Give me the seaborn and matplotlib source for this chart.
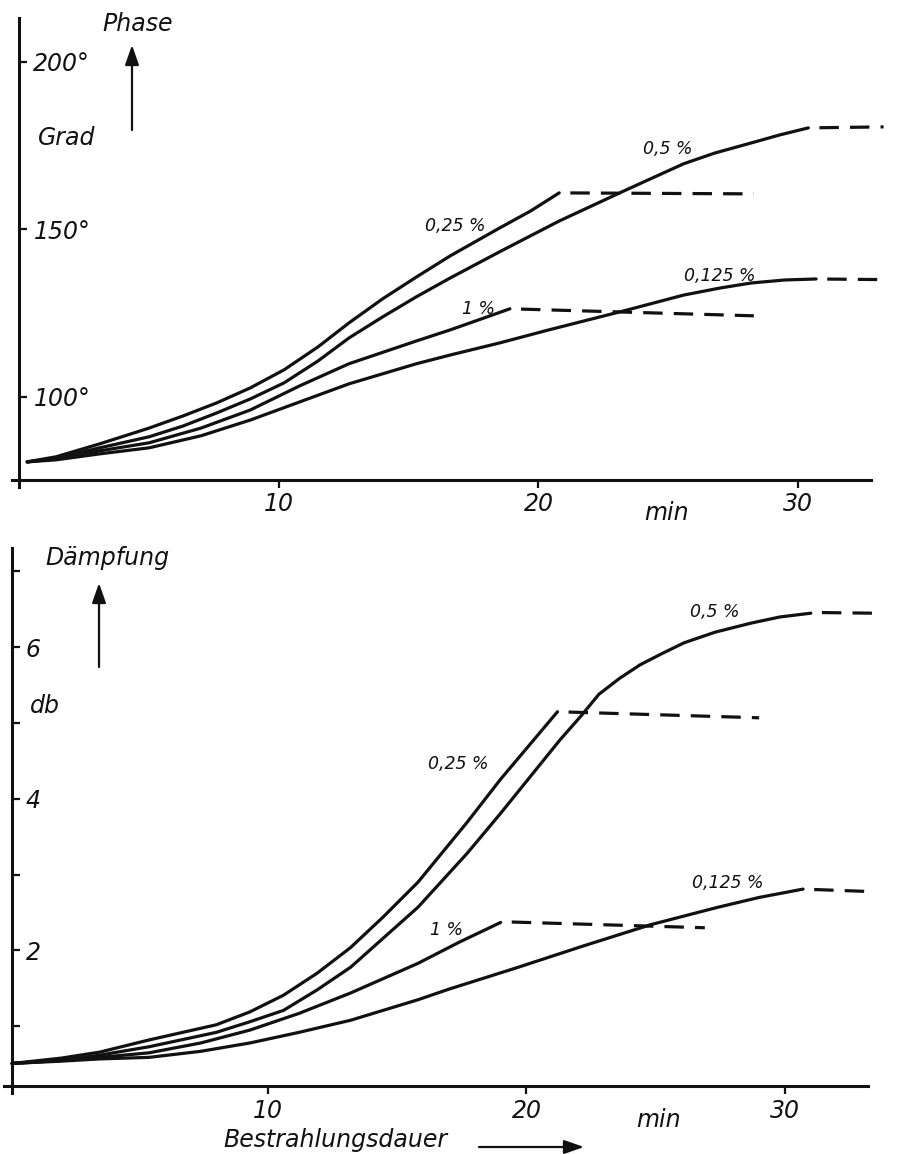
import matplotlib
matplotlib.use("Agg")
import matplotlib.pyplot as plt
from matplotlib.patches import FancyArrowPatch
import seaborn as sns

# ---------------- data ----------------
# Upper panel: Phase (Grad) vs. Bestrahlungsdauer (min)
ph_05_x = [0.3, 1.4, 3.1, 5.0, 6.3, 7.6, 8.9, 10.2, 11.5, 12.7, 14.0, 15.3, 16.6, 18.5, 20.8, 23.3, 25.6, 26.8, 28.2, 29.3, 30.4]
ph_05_y = [80.6, 81.8, 84.8, 88.1, 91.3, 95.2, 99.4, 104.2, 110.7, 117.6, 123.9, 129.9, 135.5, 143.3, 152.5, 161.5, 169.6, 172.8, 175.8, 178.2, 180.3]
ph_025_x = [0.3, 1.4, 3.1, 5.0, 6.3, 7.6, 8.9, 10.2, 11.5, 12.7, 14.0, 15.3, 16.6, 18.5, 19.7, 20.8]
ph_025_y = [80.6, 82.1, 86.0, 90.7, 94.3, 98.2, 102.7, 108.1, 114.9, 122.1, 129.3, 135.8, 142.1, 150.4, 155.5, 160.9]
ph_1_x = [0.3, 1.4, 3.1, 5.0, 7.0, 8.9, 10.8, 12.7, 15.3, 16.6, 17.7, 18.9]
ph_1_y = [80.6, 81.5, 83.9, 86.3, 90.7, 96.1, 103.3, 109.9, 116.7, 120.0, 123.0, 126.3]
ph_0125_x = [0.3, 1.4, 3.1, 5.0, 7.0, 8.9, 10.8, 12.7, 15.3, 16.6, 18.5, 20.4, 23.3, 25.6, 27.0, 28.2, 29.5, 30.7]
ph_0125_y = [80.6, 81.2, 83.0, 84.8, 88.4, 93.1, 98.5, 103.9, 109.9, 112.5, 116.1, 120.0, 125.7, 130.4, 132.5, 134.0, 134.9, 135.2]
# dashed continuations
ph_05_dash_x, ph_05_dash_y = [30.4, 33.3], [180.3, 180.6]
ph_025_dash_x, ph_025_dash_y = [20.8, 28.3], [160.9, 160.6]
ph_1_dash_x, ph_1_dash_y = [18.9, 28.3], [126.3, 124.2]
ph_0125_dash_x, ph_0125_dash_y = [30.7, 33.4], [135.2, 135.0]

# Lower panel: Dämpfung (db) vs. Bestrahlungsdauer (min)
db_05_x = [0.1, 2.0, 3.5, 5.4, 8.0, 9.3, 10.6, 11.9, 13.2, 14.45, 15.8, 17.7, 19.0, 21.3, 22.1, 22.8, 23.6, 24.4,
           25.2, 26.1, 27.3, 28.7, 29.8, 31.0]
db_05_y = [0.51, 0.55, 0.62, 0.73, 0.92, 1.06, 1.21, 1.48, 1.78, 2.16, 2.57, 3.28, 3.81, 4.78, 5.09, 5.38, 5.59, 5.77,
           5.91, 6.06, 6.20, 6.32, 6.40, 6.45]
db_025_x = [0.1, 2.0, 3.5, 5.4, 8.0, 9.3, 10.6, 11.9, 13.2, 14.45, 15.8, 17.7, 19.0, 21.2]
db_025_y = [0.51, 0.58, 0.66, 0.82, 1.02, 1.19, 1.41, 1.70, 2.04, 2.44, 2.90, 3.69, 4.26, 5.15]
db_1_x = [0.1, 2.0, 3.5, 5.4, 7.4, 9.3, 11.2, 13.2, 15.8, 17.4, 19.0]
db_1_y = [0.51, 0.55, 0.59, 0.65, 0.78, 0.95, 1.17, 1.44, 1.83, 2.11, 2.37]
db_0125_x = [0.1, 2.0, 3.5, 5.4, 7.4, 9.3, 11.2, 13.2, 15.8, 17.0, 19.6, 22.2, 24.8, 27.4, 29.0, 30.7]
db_0125_y = [0.51, 0.54, 0.57, 0.59, 0.67, 0.78, 0.92, 1.08, 1.35, 1.49, 1.77, 2.06, 2.34, 2.57, 2.70, 2.81]
db_05_dash_x, db_05_dash_y = [31.0, 33.4], [6.46, 6.45]
db_025_dash_x, db_025_dash_y = [21.2, 29.0], [5.15, 5.07]
db_1_dash_x, db_1_dash_y = [19.0, 26.9], [2.38, 2.30]
db_0125_dash_x, db_0125_dash_y = [30.7, 33.1], [2.81, 2.78]

x_ticks = [10, 20, 30]
x_ticklabels = ["10", "20", "30"]
ph_ticks = [100, 150, 200]
ph_ticklabels = ["100°", "150°", "200°"]
db_ticks = [1, 2, 3, 4, 5, 6, 7]
db_ticklabels = ["", "2", "", "4", "", "6", ""]

conc_labels = ["0,5 %", "0,25 %", "1 %", "0,125 %"]

# ---------------- styling ----------------
sns.set_theme(style="ticks")
plt.rcParams["font.family"] = ["DejaVu Sans"]
plt.rcParams["font.style"] = "italic"
plt.rcParams["lines.scale_dashes"] = False
plt.rcParams["lines.solid_joinstyle"] = "round"
plt.rcParams["lines.solid_capstyle"] = "round"

W, H = 919, 1154
fig = plt.figure(figsize=(W / 100, H / 100), dpi=100)
fig.patch.set_facecolor("white")


def fx(px):
    return px / W


def fy(py):
    return 1 - py / H


ink = "#111111"
LW = 2.3
DASH = (14, (14, 8))

ax1 = fig.add_axes([fx(11.7), fy(487), (870.6 - 11.7) / W, (487 - 18) / H])
ax2 = fig.add_axes([fx(4.3), fy(1093), (867.7 - 4.3) / W, (1093 - 548) / H])


def style_axes(ax, xlim, ylim, xspine_y, yspine_x, yticks, yticklabels):
    ax.set_xlim(*xlim)
    ax.set_ylim(*ylim)
    ax.set_facecolor("none")
    for s in ("top", "right"):
        ax.spines[s].set_visible(False)
    ax.spines["bottom"].set_position(("data", xspine_y))
    ax.spines["left"].set_position(("data", yspine_x))
    for s in ("bottom", "left"):
        ax.spines[s].set_linewidth(2.2)
        ax.spines[s].set_color(ink)
    ax.set_xticks(x_ticks)
    ax.set_xticklabels(x_ticklabels)
    ax.set_yticks(yticks)
    ax.set_yticklabels(yticklabels)
    ax.tick_params(axis="x", direction="out", length=6, width=1.6, pad=3,
                   labelsize=17, colors=ink, bottom=True)
    ax.tick_params(axis="y", direction="in", length=6, width=1.6, pad=-10,
                   labelsize=17, colors=ink, left=True)
    for lab in ax.get_yticklabels():
        lab.set_horizontalalignment("left")
    ax.set_xlabel("")
    ax.set_ylabel("")
    ax.grid(False)


def draw(ax, x, y, dashed=False):
    kw = dict(x=x, y=y, ax=ax, color=ink, linewidth=LW, sort=False,
              estimator=None, legend=False)
    if dashed:
        kw["linestyle"] = DASH
    sns.lineplot(**kw)
    ax.lines[-1].set_clip_on(False)


# upper panel
for xs, ys in [(ph_05_x, ph_05_y), (ph_025_x, ph_025_y), (ph_1_x, ph_1_y), (ph_0125_x, ph_0125_y)]:
    draw(ax1, xs, ys)
for xs, ys in [(ph_05_dash_x, ph_05_dash_y), (ph_025_dash_x, ph_025_dash_y),
               (ph_1_dash_x, ph_1_dash_y), (ph_0125_dash_x, ph_0125_dash_y)]:
    draw(ax1, xs, ys, dashed=True)
style_axes(ax1, (-0.3, 32.8), (73.1, 213.1), 75.2, 0.0, ph_ticks, ph_ticklabels)

# lower panel
for xs, ys in [(db_05_x, db_05_y), (db_025_x, db_025_y), (db_1_x, db_1_y), (db_0125_x, db_0125_y)]:
    draw(ax2, xs, ys)
for xs, ys in [(db_05_dash_x, db_05_dash_y), (db_025_dash_x, db_025_dash_y),
               (db_1_dash_x, db_1_dash_y), (db_0125_dash_x, db_0125_dash_y)]:
    draw(ax2, xs, ys, dashed=True)
style_axes(ax2, (-0.2, 33.2), (0.12, 7.31), 0.21, 0.1, db_ticks, db_ticklabels)

# curve labels
ph_label_pos = [(25.0, 174.0), (16.8, 151.0), (17.7, 126.3), (27.0, 136.1)]
db_label_pos = [(27.3, 6.46), (17.35, 4.46), (16.9, 2.27), (27.8, 2.89)]
for lab, (lx, ly) in zip(conc_labels, ph_label_pos):
    ax1.text(lx, ly, lab, ha="center", va="center", fontsize=12.5, color=ink)
for lab, (lx, ly) in zip(conc_labels, db_label_pos):
    ax2.text(lx, ly, lab, ha="center", va="center", fontsize=12.5, color=ink)

# axis titles and units
fig.text(fx(138), fy(24), "Phase", ha="center", va="center", fontsize=17, color=ink)
fig.text(fx(67), fy(138), "Grad", ha="center", va="center", fontsize=17, color=ink)
fig.text(fx(107), fy(558), "Dämpfung", ha="center", va="center", fontsize=17, color=ink)
fig.text(fx(45), fy(706), "db", ha="center", va="center", fontsize=17, color=ink)
fig.text(fx(666), fy(513), "min", ha="center", va="center", fontsize=17, color=ink)
fig.text(fx(658), fy(1120), "min", ha="center", va="center", fontsize=17, color=ink)
fig.text(fx(335), fy(1140), "Bestrahlungsdauer", ha="center", va="center", fontsize=17, color=ink)


def arrow(p0, p1):
    a = FancyArrowPatch((fx(p0[0]), fy(p0[1])), (fx(p1[0]), fy(p1[1])),
                        transform=fig.transFigure,
                        arrowstyle="-|>,head_length=0.8,head_width=0.28",
                        mutation_scale=15, lw=1.6, color=ink,
                        shrinkA=0, shrinkB=0)
    fig.add_artist(a)


arrow((132, 130), (132, 45))
arrow((99, 667), (99, 583))
arrow((479, 1147), (584, 1147))

fig.savefig("out.png", dpi=100, facecolor="white")
